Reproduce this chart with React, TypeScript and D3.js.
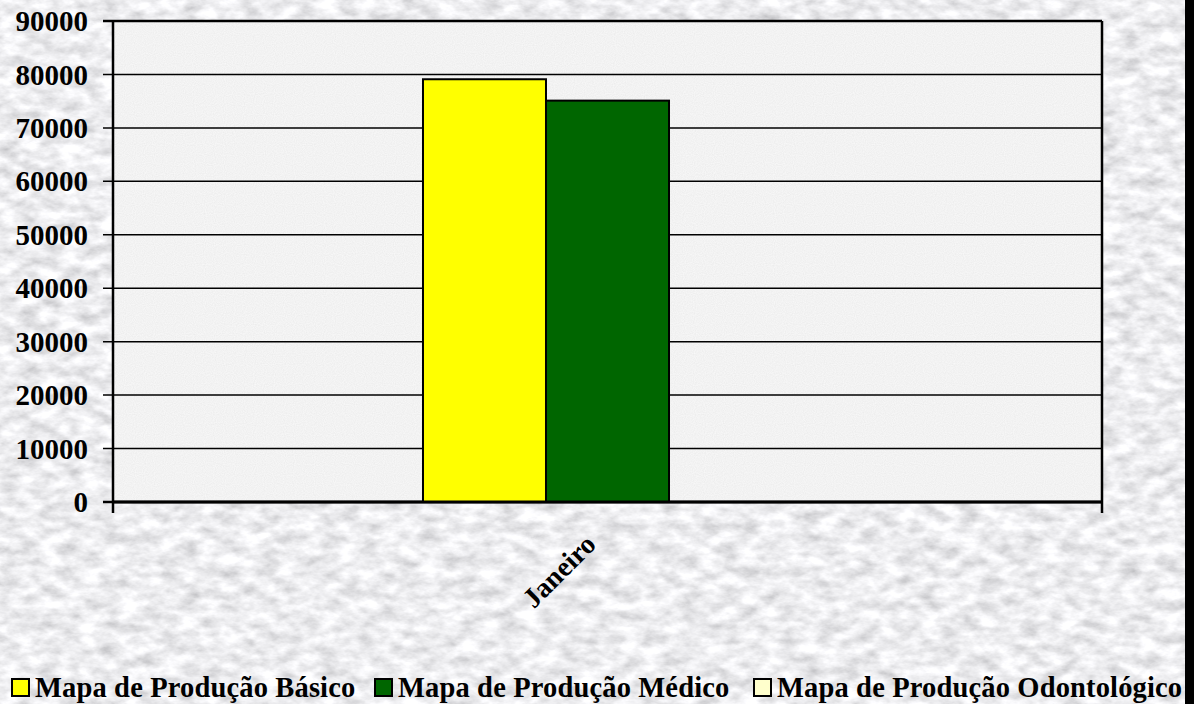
import React from "react";
import * as d3 from "d3";

const categories = ["Janeiro"];
const seriesNames = [
  "Mapa de Produção Básico",
  "Mapa de Produção Médico",
  "Mapa de Produção Odontológico",
];
const seriesColors = ["#ffff00", "#006600", "#ffffcc"];
const basicoValues = [79100];
const medicoValues = [75100];
const odontoValues = [0];
const yTicks = [0, 10000, 20000, 30000, 40000, 50000, 60000, 70000, 80000, 90000];

const W = 1194;
const H = 704;
const plot = { left: 113, right: 1102, top: 21, bottom: 502 };
const legendX = [11, 374, 753];

export default function App() {
  const series = [basicoValues, medicoValues, odontoValues];
  const y = d3.scaleLinear().domain([0, 90000]).range([plot.bottom, plot.top]);
  const x0 = d3
    .scaleBand<string>()
    .domain(categories)
    .range([plot.left, plot.right])
    .paddingInner(0)
    .paddingOuter(0.84);
  const x1 = d3
    .scaleBand<string>()
    .domain(seriesNames)
    .range([0, x0.bandwidth()])
    .padding(0);
  const font = "'Liberation Serif', 'Times New Roman', serif";

  return (
    <svg
      width={W}
      height={H}
      style={{ position: "absolute", left: 0, top: 0, display: "block" }}
    >
      <defs>
        <filter id="marble" x="0" y="0" width="100%" height="100%">
          <feTurbulence type="fractalNoise" baseFrequency="0.05 0.09" numOctaves="4" seed="7" result="n" />
          <feColorMatrix
            in="n"
            type="matrix"
            values="0.7 0 0 0 0.5  0.7 0 0 0 0.5  0.7 0 0 0 0.52  0 0 0 0 1"
          />
        </filter>
        <filter id="stipple" x="0" y="0" width="100%" height="100%">
          <feTurbulence type="fractalNoise" baseFrequency="0.9" numOctaves="1" seed="2" result="n" />
          <feColorMatrix
            in="n"
            type="matrix"
            values="0.14 0 0 0 0.82  0.14 0 0 0 0.82  0.14 0 0 0 0.82  0 0 0 0 1"
          />
        </filter>
      </defs>
      <rect x={0} y={0} width={W} height={H} fill="#dcdcdc" filter="url(#marble)" />
      <rect x={1185} y={0} width={W - 1185} height={H} fill="#000" />
      <rect
        x={plot.left}
        y={plot.top}
        width={plot.right - plot.left}
        height={plot.bottom - plot.top}
        fill="#ececec"
        filter="url(#stipple)"
      />
      {/* gridlines */}
      {yTicks.map((t) => (
        <line
          key={"g" + t}
          x1={plot.left - 10}
          x2={plot.right}
          y1={y(t)}
          y2={y(t)}
          stroke="#000"
          strokeWidth={t === 0 || t === 90000 ? 2.5 : 1.5}
        />
      ))}
      {/* bars */}
      {categories.map((c, ci) =>
        series.map((vals, si) => {
          const v = vals[ci];
          if (!v) return null;
          const bx = (x0(c) as number) + (x1(seriesNames[si]) as number);
          return (
            <rect
              key={c + si}
              x={bx}
              y={y(v)}
              width={x1.bandwidth()}
              height={y(0) - y(v)}
              fill={seriesColors[si]}
              stroke="#000"
              strokeWidth={2}
            />
          );
        })
      )}
      {/* axes */}
      <line x1={plot.left} x2={plot.left} y1={plot.top} y2={plot.bottom + 11} stroke="#000" strokeWidth={2.5} />
      <line x1={plot.right} x2={plot.right} y1={plot.top} y2={plot.bottom + 11} stroke="#000" strokeWidth={2.5} />
      <line x1={plot.left} x2={plot.right} y1={plot.bottom} y2={plot.bottom} stroke="#000" strokeWidth={3} />
      {/* y labels */}
      {yTicks.map((t) => (
        <text
          key={"l" + t}
          x={88}
          y={y(t)}
          dy="0.35em"
          textAnchor="end"
          fontFamily={font}
          fontWeight="bold"
          fontSize={29}
          fill="#000"
        >
          {t}
        </text>
      ))}
      {/* x labels */}
      {categories.map((c) => {
        const cx = (x0(c) as number) + x0.bandwidth() / 2;
        return (
          <text
            key={c}
            transform={`translate(${cx - 10},${plot.bottom + 44}) rotate(-45)`}
            textAnchor="end"
            fontFamily={font}
            fontWeight="bold"
            fontSize={28}
            fill="#000"
          >
            {c}
          </text>
        );
      })}
      {/* legend */}
      {seriesNames.map((s, i) => (
        <g key={s}>
          <rect x={legendX[i] + 1} y={679} width={17} height={17} fill={seriesColors[i]} stroke="#000" strokeWidth={2} />
          <text
            x={legendX[i] + 24}
            y={697}
            fontFamily={font}
            fontWeight="bold"
            fontSize={28.5}
            letterSpacing={0.15}
            fill="#000"
          >
            {s}
          </text>
        </g>
      ))}
    </svg>
  );
}
